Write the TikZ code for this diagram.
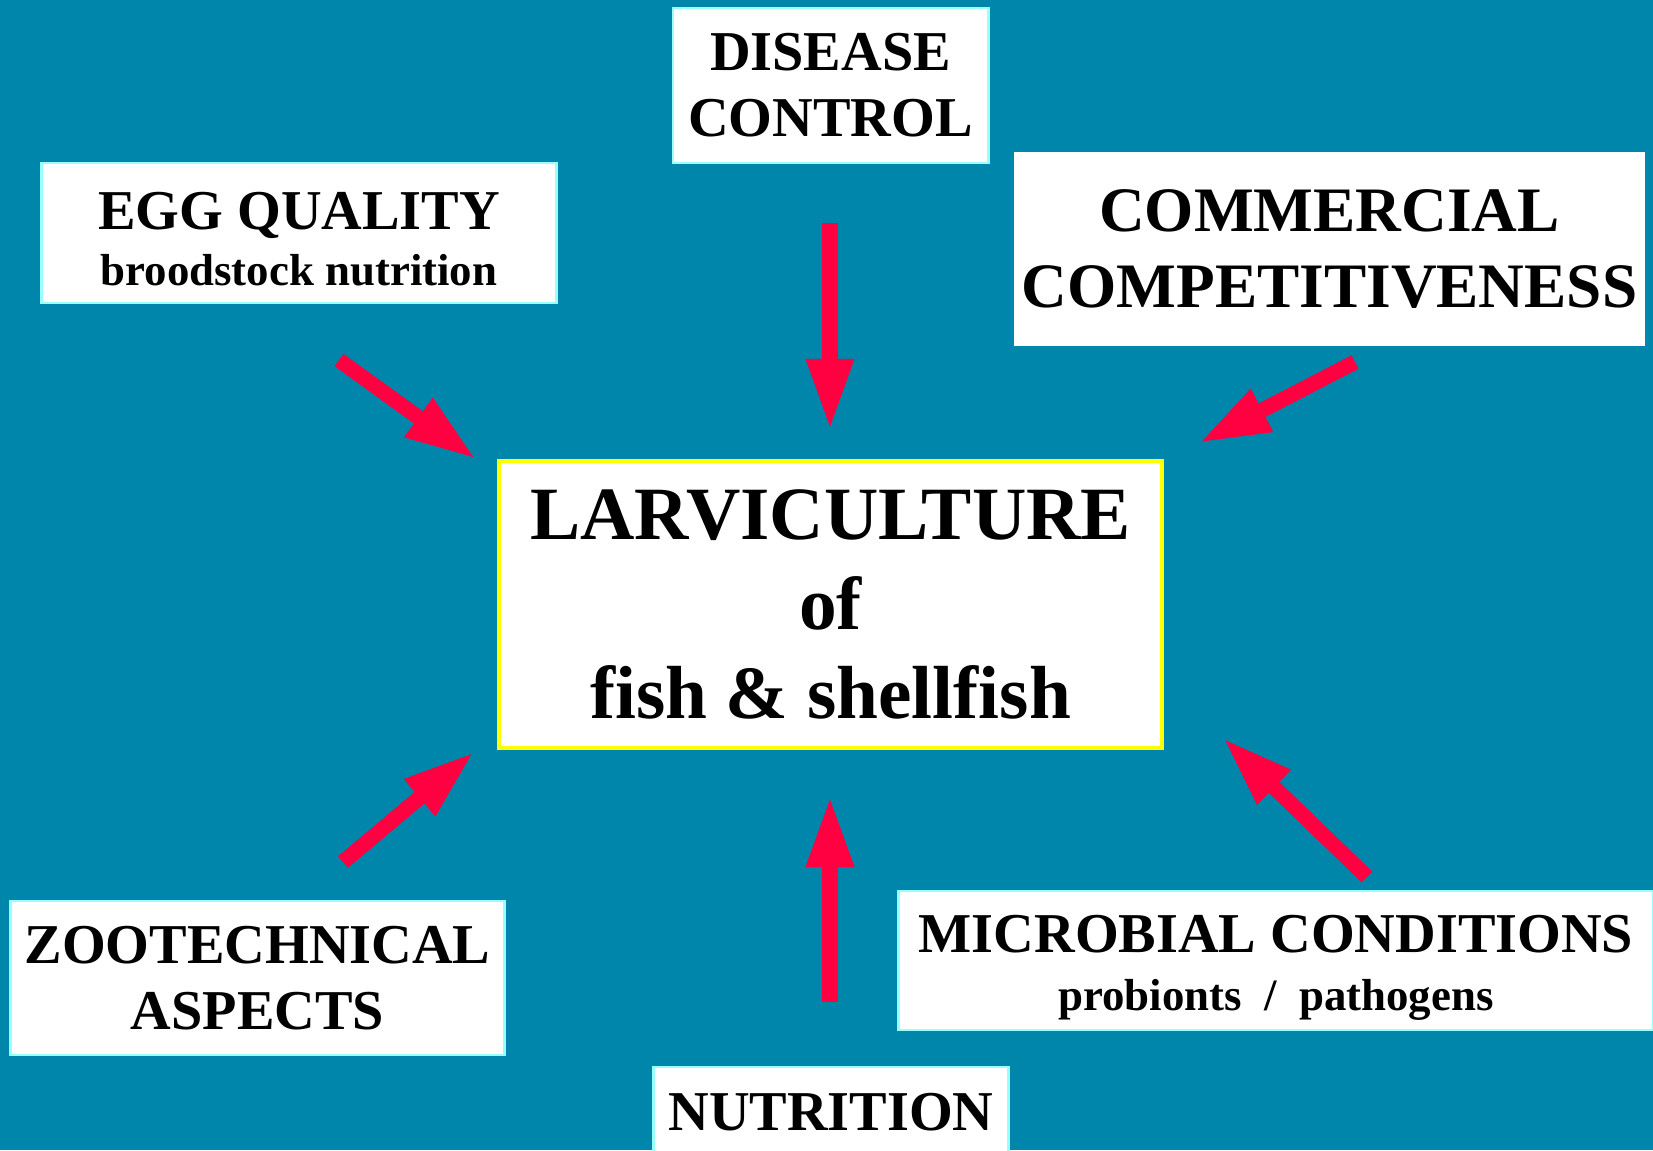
\documentclass[tikz,border=0pt]{standalone}
\usepackage{fontspec}
\setmainfont{Liberation Serif}
\usepackage{tikz}
\usetikzlibrary{arrows.meta}
\definecolor{sea}{HTML}{0086AB}
\definecolor{push}{HTML}{FF0040}
\definecolor{rim}{HTML}{99FFFF}
\definecolor{core}{HTML}{FFFF00}
\newcommand{\fs}[2]{\fontsize{#1}{#2}\selectfont\bfseries}

\begin{document}
\begin{tikzpicture}[x=0.01cm,y=-0.01cm,
  box/.style={draw=rim,line width=0.8pt,fill=white,align=center,inner sep=0pt,text=black},
  hub/.style={box,draw=core,line width=1pt},
  arr/.style={-{Triangle[length=7.1mm,width=4.4mm]},line width=4.3pt,draw=push}]
  \clip (0,0) rectangle (1653,1150);
  \fill[sea] (0,0) rectangle (1653,1150);
  % factors round the centre
  \node[box,minimum width=3.15cm,minimum height=1.55cm,font=\fs{16}{18.8}] (dis) at (830.5,85.5) {DISEASE\\CONTROL};
  \node[box,minimum width=5.14cm,minimum height=1.40cm,font=\fs{16}{16}] (egg) at (299,233) {\rule{0pt}{14pt}EGG QUALITY\\{\fs{12.75}{16}broodstock nutrition}};
  \node[box,draw=white,minimum width=6.27cm,minimum height=1.92cm,font=\fs{18}{21.8}] (com) at (1329.5,249) {COMMERCIAL\\COMPETITIVENESS};
  \node[hub,minimum width=6.63cm,minimum height=2.87cm,font=\fs{21.4}{25.5}] (larv) at (830.5,604.5) {LARVICULTURE\\of\\fish \& shellfish};
  \node[box,minimum width=4.93cm,minimum height=1.54cm,font=\fs{16}{18.8}] (zoo) at (257.5,978) {ZOOTECHNICAL\\ASPECTS};
  \node[box,minimum width=3.54cm,minimum height=0.91cm,font=\fs{16}{16}] (nut) at (831,1112.5) {NUTRITION};
  \node[box,minimum width=7.54cm,minimum height=1.39cm,font=\fs{16}{16.5}] (mic) at (1276,960.5) {\rule{0pt}{15pt}MICROBIAL CONDITIONS\\{\fs{12.75}{16.5}probionts~~/~~pathogens}};
  % arrow ends
  \coordinate (egg-a) at (339,360);  \coordinate (egg-b) at (476,459);
  \coordinate (dis-a) at (830,223);  \coordinate (dis-b) at (830,430);
  \coordinate (com-a) at (1355,362); \coordinate (com-b) at (1199,443);
  \coordinate (zoo-a) at (343,862);  \coordinate (zoo-b) at (474,752);
  \coordinate (nut-a) at (830,1002); \coordinate (nut-b) at (830,796);
  \coordinate (mic-a) at (1367,877); \coordinate (mic-b) at (1223,738);
  \foreach \k in {egg,dis,com,zoo,nut,mic}
    \draw[arr] (\k-a) -- (\k-b);
\end{tikzpicture}
\end{document}
